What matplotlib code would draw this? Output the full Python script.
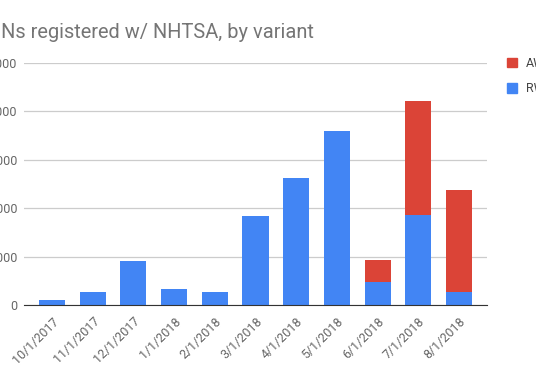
import matplotlib.pyplot as plt
import numpy as np
from matplotlib.patches import Patch

plt.rcParams["font.family"] = ["Roboto", "DejaVu Sans"]

months = ["10/1/2017", "11/1/2017", "12/1/2017", "1/1/2018", "2/1/2018", "3/1/2018",
          "4/1/2018", "5/1/2018", "6/1/2018", "7/1/2018", "8/1/2018"]
rwd = [520, 1300, 4570, 1680, 1300, 9180, 13100, 17940, 2400, 9280, 1370]
awd = [0, 0, 0, 0, 0, 0, 0, 0, 2240, 11750, 10490]
yticks = [0, 5000, 10000, 15000, 20000, 25000]

blue = "#4285F4"
red = "#DB4437"

fig = plt.figure(figsize=(5.36, 3.77), dpi=100)
W, H = 536, 377
ax = fig.add_axes([24 / W, (H - 305) / H, (487 - 24) / W, (305 - 63) / H])

x = np.arange(len(months))
ax.bar(x, rwd, width=0.64, color=blue, zorder=3)
ax.bar(x, awd, width=0.64, bottom=rwd, color=red, zorder=3)

ax.set_xlim(-0.69, 10.69)
ax.set_ylim(0, 25000)
ax.set_yticks(yticks)
ax.set_yticklabels([str(v) for v in yticks], fontsize=9, color="#666666")
ax.set_xticks(x)
ax.set_xticklabels(months, rotation=45, ha="right", rotation_mode="anchor",
                   fontsize=9, color="#666666")
ax.tick_params(length=0, pad=5)
ax.tick_params(axis="x", pad=7)
ax.grid(axis="y", color="#cccccc", linewidth=0.9, zorder=0)
for s in ["top", "right", "left"]:
    ax.spines[s].set_visible(False)
ax.spines["bottom"].set_color("#333333")
ax.spines["bottom"].set_zorder(4)

fig.text(-17 / W, (H - 38) / H, "VINs registered w/ NHTSA, by variant",
         fontsize=14.4, color="#757575", va="baseline", ha="left")

handles = [Patch(color=red, label="AWD"), Patch(color=blue, label="RWD")]
fig.legend(handles=handles, loc="upper left", bbox_to_anchor=(507 / W, (H - 57) / H),
           frameon=False, fontsize=9, handlelength=0.8, handleheight=0.8,
           handletextpad=0.7, labelspacing=1.0, borderpad=0, borderaxespad=0,
           labelcolor="#444444")

fig.savefig("out.png", dpi=100)
